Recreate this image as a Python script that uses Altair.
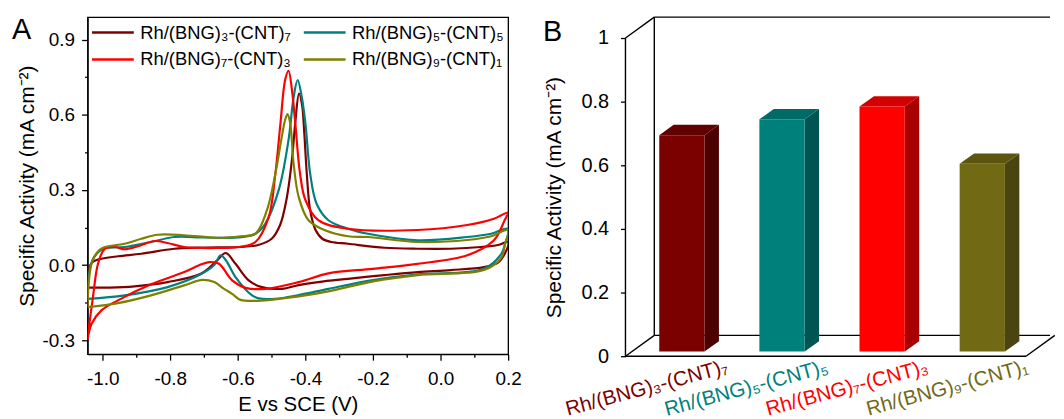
import altair as alt
import pandas as pd

FONT = "Liberation Sans"

# ---------------- Panel A : cyclic voltammograms ----------------
NAMES = ["Rh/(BNG)₃-(CNT)₇", "Rh/(BNG)₅-(CNT)₅", "Rh/(BNG)₇-(CNT)₃", "Rh/(BNG)₉-(CNT)₁"]
LINE_COLORS = ["#800000", "#008080", "#FF0000", "#808000"]
LEGEND_ORDER = [0, 2, 1, 3]   # legend fills column by column

# forward scan (-1.045 V -> 0.2 V)
E_37_FWD = [-1.045, -1.04, -1.03, -1.014, -0.955, -0.886, -0.788, -0.70, -0.60, -0.54, -0.50, -0.475,
            -0.455, -0.44, -0.43, -0.419, -0.41, -0.404, -0.396, -0.386, -0.37, -0.35, -0.323, -0.274,
            -0.166, -0.068, 0.03, 0.12, 0.17, 0.2]
I_37_FWD = [-0.09, -0.01, 0.012, 0.022, 0.035, 0.045, 0.065, 0.07, 0.072, 0.08, 0.105, 0.16,
            0.27, 0.42, 0.57, 0.685, 0.64, 0.54, 0.365, 0.219, 0.14, 0.105, 0.092, 0.085,
            0.069, 0.065, 0.065, 0.072, 0.08, 0.092]
# reverse scan (0.2 V -> -1.045 V)
E_37_REV = [0.19, 0.17, 0.128, 0.03, -0.068, -0.166, -0.274, -0.362, -0.42, -0.47, -0.529, -0.568,
            -0.607, -0.636, -0.661, -0.71, -0.808, -0.906, -0.98, -1.045]
I_37_REV = [0.045, 0.01, -0.008, -0.02, -0.028, -0.04, -0.055, -0.068, -0.08, -0.095, -0.088, -0.061,
            0.005, 0.048, 0.019, -0.035, -0.068, -0.085, -0.09, -0.09]

E_55_FWD = [-1.045, -1.04, -1.03, -1.01, -0.994, -0.935, -0.857, -0.788, -0.70, -0.60, -0.548, -0.519,
            -0.479, -0.45, -0.435, -0.423, -0.411, -0.40, -0.386, -0.367, -0.332, -0.274, -0.215,
            -0.068, 0.079, 0.15, 0.2]
I_55_FWD = [-0.135, -0.03, 0.02, 0.055, 0.067, 0.072, 0.092, 0.112, 0.11, 0.11, 0.125, 0.165,
            0.30, 0.50, 0.67, 0.739, 0.672, 0.565, 0.365, 0.245, 0.179, 0.145, 0.125,
            0.099, 0.112, 0.125, 0.145]
E_55_REV = [0.19, 0.18, 0.128, -0.068, -0.2, -0.332, -0.42, -0.489, -0.538, -0.558, -0.607, -0.636,
            -0.651, -0.67, -0.71, -0.808, -0.935, -1.045]
I_55_REV = [0.08, 0.045, -0.015, -0.037, -0.06, -0.095, -0.12, -0.135, -0.133, -0.121, -0.048, 0.02,
            0.039, 0.0, -0.037, -0.088, -0.121, -0.135]

E_73_FWD = [-1.045, -1.04, -1.029, -1.014, -0.994, -0.964, -0.935, -0.896, -0.847, -0.808, -0.759,
            -0.661, -0.597, -0.548, -0.509, -0.489, -0.474, -0.46, -0.45, -0.44, -0.43, -0.416,
            -0.40, -0.362, -0.274, -0.068, 0.079, 0.158, 0.2]
I_73_FWD = [-0.30, -0.24, -0.128, 0.005, 0.065, 0.072, 0.063, 0.075, 0.096, 0.088, 0.072,
            0.068, 0.072, 0.092, 0.19, 0.365, 0.565, 0.74, 0.776, 0.70, 0.565, 0.365,
            0.259, 0.179, 0.145, 0.14, 0.16, 0.185, 0.21]
E_73_REV = [0.19, 0.158, 0.079, -0.068, -0.2, -0.332, -0.42, -0.519, -0.577, -0.617, -0.656, -0.685,
            -0.715, -0.759, -0.857, -0.955, -1.004, -1.033, -1.045]
I_73_REV = [0.18, 0.099, 0.039, 0.005, -0.015, -0.033, -0.068, -0.095, -0.091, -0.061, 0.005, 0.012,
            -0.001, -0.028, -0.077, -0.141, -0.181, -0.235, -0.30]

E_91_FWD = [-1.045, -1.04, -1.03, -1.01, -0.994, -0.935, -0.886, -0.837, -0.759, -0.661, -0.592,
            -0.548, -0.514, -0.489, -0.47, -0.46, -0.453, -0.445, -0.435, -0.42, -0.391, -0.342,
            -0.274, -0.215, -0.068, 0.079, 0.15, 0.2]
I_91_FWD = [-0.168, -0.05, 0.02, 0.06, 0.072, 0.085, 0.105, 0.121, 0.119, 0.109, 0.115,
            0.125, 0.219, 0.365, 0.512, 0.58, 0.603, 0.565, 0.405, 0.272, 0.179, 0.139,
            0.115, 0.112, 0.092, 0.10, 0.115, 0.14]
E_91_REV = [0.19, 0.18, 0.128, -0.068, -0.2, -0.332, -0.42, -0.519, -0.592, -0.617, -0.641, -0.67,
            -0.705, -0.759, -0.857, -0.955, -1.045]
I_91_REV = [0.08, 0.03, -0.02, -0.04, -0.065, -0.105, -0.125, -0.141, -0.139, -0.115, -0.095, -0.068,
            -0.059, -0.081, -0.121, -0.152, -0.168]

X_TICKS = [-1.0, -0.9, -0.8, -0.7, -0.6, -0.5, -0.4, -0.3, -0.2, -0.1, 0.0, 0.1, 0.2]
Y_TICKS = [-0.3, -0.15, 0.0, 0.15, 0.3, 0.45, 0.6, 0.75, 0.9]

# ---------------- Panel B : specific activity bars ----------------
BAR_VALUES = [0.68, 0.73, 0.77, 0.59]
BAR_FRONT = ["#7B0000", "#00807B", "#FF0000", "#716914"]
BAR_TOP = ["#600000", "#006A66", "#D20000", "#5C5510"]
BAR_SIDE = ["#4C0000", "#005552", "#A80000", "#4A4410"]
B_TICKS = [0, 0.2, 0.4, 0.6, 0.8, 1.0]

# ---------------- build tables ----------------
rows = []
for name, ef, jf, er, jr in zip(
        NAMES,
        [E_37_FWD, E_55_FWD, E_73_FWD, E_91_FWD], [I_37_FWD, I_55_FWD, I_73_FWD, I_91_FWD],
        [E_37_REV, E_55_REV, E_73_REV, E_91_REV], [I_37_REV, I_55_REV, I_73_REV, I_91_REV]):
    E = ef + er
    J = jf + jr
    for k, (e, j) in enumerate(zip(E, J)):
        rows.append({"series": name, "k": k, "E": e, "I": j})
cv = pd.DataFrame(rows)

major_x = "abs(datum.value*5 - round(datum.value*5)) < 0.001"
major_y = "abs(datum.value/0.3 - round(datum.value/0.3)) < 0.001"

xax = alt.Axis(values=X_TICKS, title="E vs SCE (V)",
               labelExpr=f"{major_x} ? replace(format(datum.value, '.1f'), '\u2212', '-') : ''",
               tickSize={"condition": {"test": major_x, "value": 6}, "value": 3},
               labelFontSize=19, titleFontSize=20.5, labelPadding=9, titlePadding=7,
               tickWidth=1.3, domainWidth=1.3, labelFlush=False)
yax = alt.Axis(values=Y_TICKS, title="Specific Activity (mA cm⁻²)",
               labelExpr=f"{major_y} ? replace(format(datum.value, '.1f'), '\u2212', '-') : ''",
               tickSize={"condition": {"test": major_y, "value": 6}, "value": 3},
               labelFontSize=19, titleFontSize=21, labelPadding=7, titlePadding=5,
               tickWidth=1.3, domainWidth=1.3)

legend_names = [NAMES[i] for i in LEGEND_ORDER]
legend_colors = [LINE_COLORS[i] for i in LEGEND_ORDER]

lines = alt.Chart(cv).mark_line(interpolate="catmull-rom", strokeWidth=2.2, clip=True).encode(
    x=alt.X("E:Q", scale=alt.Scale(domain=[-1.045, 0.2], nice=False, zero=False), axis=xax),
    y=alt.Y("I:Q", scale=alt.Scale(domain=[-0.356, 0.99], nice=False, zero=False), axis=yax),
    color=alt.Color("series:N", scale=alt.Scale(domain=legend_names, range=legend_colors),
                    legend=alt.Legend(orient="none", legendX=14, legendY=4, columns=2, title=None,
                                      symbolType="M-2.1,0H2.1", symbolSize=400, symbolStrokeWidth=2.5,
                                      labelFontSize=18.5, labelFont=FONT, columnPadding=7,
                                      rowPadding=6, labelOffset=16, labelLimit=400, padding=0)),
    order=alt.Order("k:Q"),
)
label_a = alt.Chart(pd.DataFrame({"t": ["A"]})).mark_text(
    align="left", baseline="alphabetic", fontSize=29, font=FONT, color="black").encode(
    x=alt.value(-76), y=alt.value(22), text="t:N")

panel_a = alt.layer(lines, label_a).properties(
    width=423, height=339, view=alt.ViewBackground(stroke="black", strokeWidth=1.3))

# 3-D geometry (style constants)
XD, YD = 0.288, 0.0655      # depth of the box
D0, D1 = 0.22, 0.72          # depth range occupied by the bars
HW = 0.226                   # half width of the bar front
NCAT = len(BAR_VALUES)
XMAX = 4.24
LBL = 0.49

bars = pd.DataFrame({"name": NAMES, "value": BAR_VALUES, "i": list(range(NCAT)),
                     "front": BAR_FRONT, "top": BAR_TOP, "side": BAR_SIDE})

XS = alt.Scale(domain=[0, XMAX], nice=False, zero=False)
YS = alt.Scale(domain=[0, 1 + YD], nice=False, zero=False)
yax_b = alt.Axis(values=B_TICKS, format="~g", title="Specific Activity (mA cm⁻²)", domain=False,
                 tickSize=5, tickWidth=1.3, labelFontSize=20, titleFontSize=21, labelPadding=12,
                 titlePadding=17, titleY=181)

segs = pd.DataFrame({
    "x":  [0, 0, XD, XD, 0, 0, XD, NCAT],
    "y":  [0, 1, YD, 1 + YD, 0, 0, YD, 0],
    "x2": [0, XD, XD, XMAX, NCAT, XD, XMAX, NCAT + XD],
    "y2": [1, 1 + YD, 1 + YD, 1 + YD, 0, YD, YD, YD],
})
frame = alt.Chart(segs).mark_rule(color="black", strokeWidth=1.4).encode(
    x=alt.X("x:Q", scale=XS, axis=None), x2="x2:Q",
    y=alt.Y("y:Q", scale=YS, axis=yax_b), y2="y2:Q")

side = alt.Chart(bars).transform_calculate(d=f"[{D0}, {D1}]").transform_flatten(["d"]).transform_calculate(
    sx=f"datum.i + 0.5 + {HW} + datum.d*{XD}", sb=f"datum.d*{YD}", st=f"datum.value + datum.d*{YD}"
).mark_area(orient="vertical").encode(
    x=alt.X("sx:Q", scale=XS, axis=None),
    y=alt.Y("st:Q", scale=YS, axis=yax_b, stack=None), y2="sb:Q",
    color=alt.Color("side:N", scale=None), detail="name:N")

top = alt.Chart(bars).transform_calculate(d=f"[{D0}, {D1}]").transform_flatten(["d"]).transform_calculate(
    ty=f"datum.value + datum.d*{YD}", tl=f"datum.i + 0.5 - {HW} + datum.d*{XD}",
    tr=f"datum.i + 0.5 + {HW} + datum.d*{XD}"
).mark_area(orient="horizontal").encode(
    y=alt.Y("ty:Q", scale=YS, axis=yax_b),
    x=alt.X("tl:Q", scale=XS, axis=None, stack=None), x2="tr:Q",
    color=alt.Color("top:N", scale=None), detail="name:N")

front = alt.Chart(bars).transform_calculate(
    xa=f"datum.i + 0.5 - {HW} + {D0 * XD}", xb=f"datum.i + 0.5 + {HW} + {D0 * XD}",
    ya=f"{D0 * YD}", yb=f"datum.value + {D0 * YD}"
).mark_rect().encode(
    x=alt.X("xa:Q", scale=XS, axis=None), x2="xb:Q",
    y=alt.Y("ya:Q", scale=YS, axis=yax_b), y2="yb:Q",
    color=alt.Color("front:N", scale=None))

names_b = alt.Chart(bars).transform_calculate(lx=f"datum.i + 0.5 + {LBL}", ly="0").mark_text(
    angle=345, align="right", baseline="top", fontSize=20.5, font=FONT, dy=1).encode(
    x=alt.X("lx:Q", scale=XS, axis=None), y=alt.Y("ly:Q", scale=YS, axis=yax_b),
    text="name:N", color=alt.Color("front:N", scale=None))

label_b = alt.Chart(pd.DataFrame({"t": ["B"]})).mark_text(
    align="left", baseline="alphabetic", fontSize=29, font=FONT, color="black").encode(
    x=alt.value(-83), y=alt.value(24), text="t:N")

panel_b = alt.layer(frame, side, top, front, names_b, label_b).properties(
    width=427, height=341, view=alt.ViewBackground(stroke=None))

chart = alt.hconcat(panel_a, panel_b, spacing=21).properties(
    padding={"left": 3, "top": 6, "right": 0, "bottom": 0}
).configure_axis(
    labelFont=FONT, titleFont=FONT, labelColor="black", titleColor="black",
    domainColor="black", tickColor="black", titleFontWeight="normal", grid=False
).configure_view(stroke=None)

chart.save("out.html", embed_options={"renderer": "svg", "actions": False})
